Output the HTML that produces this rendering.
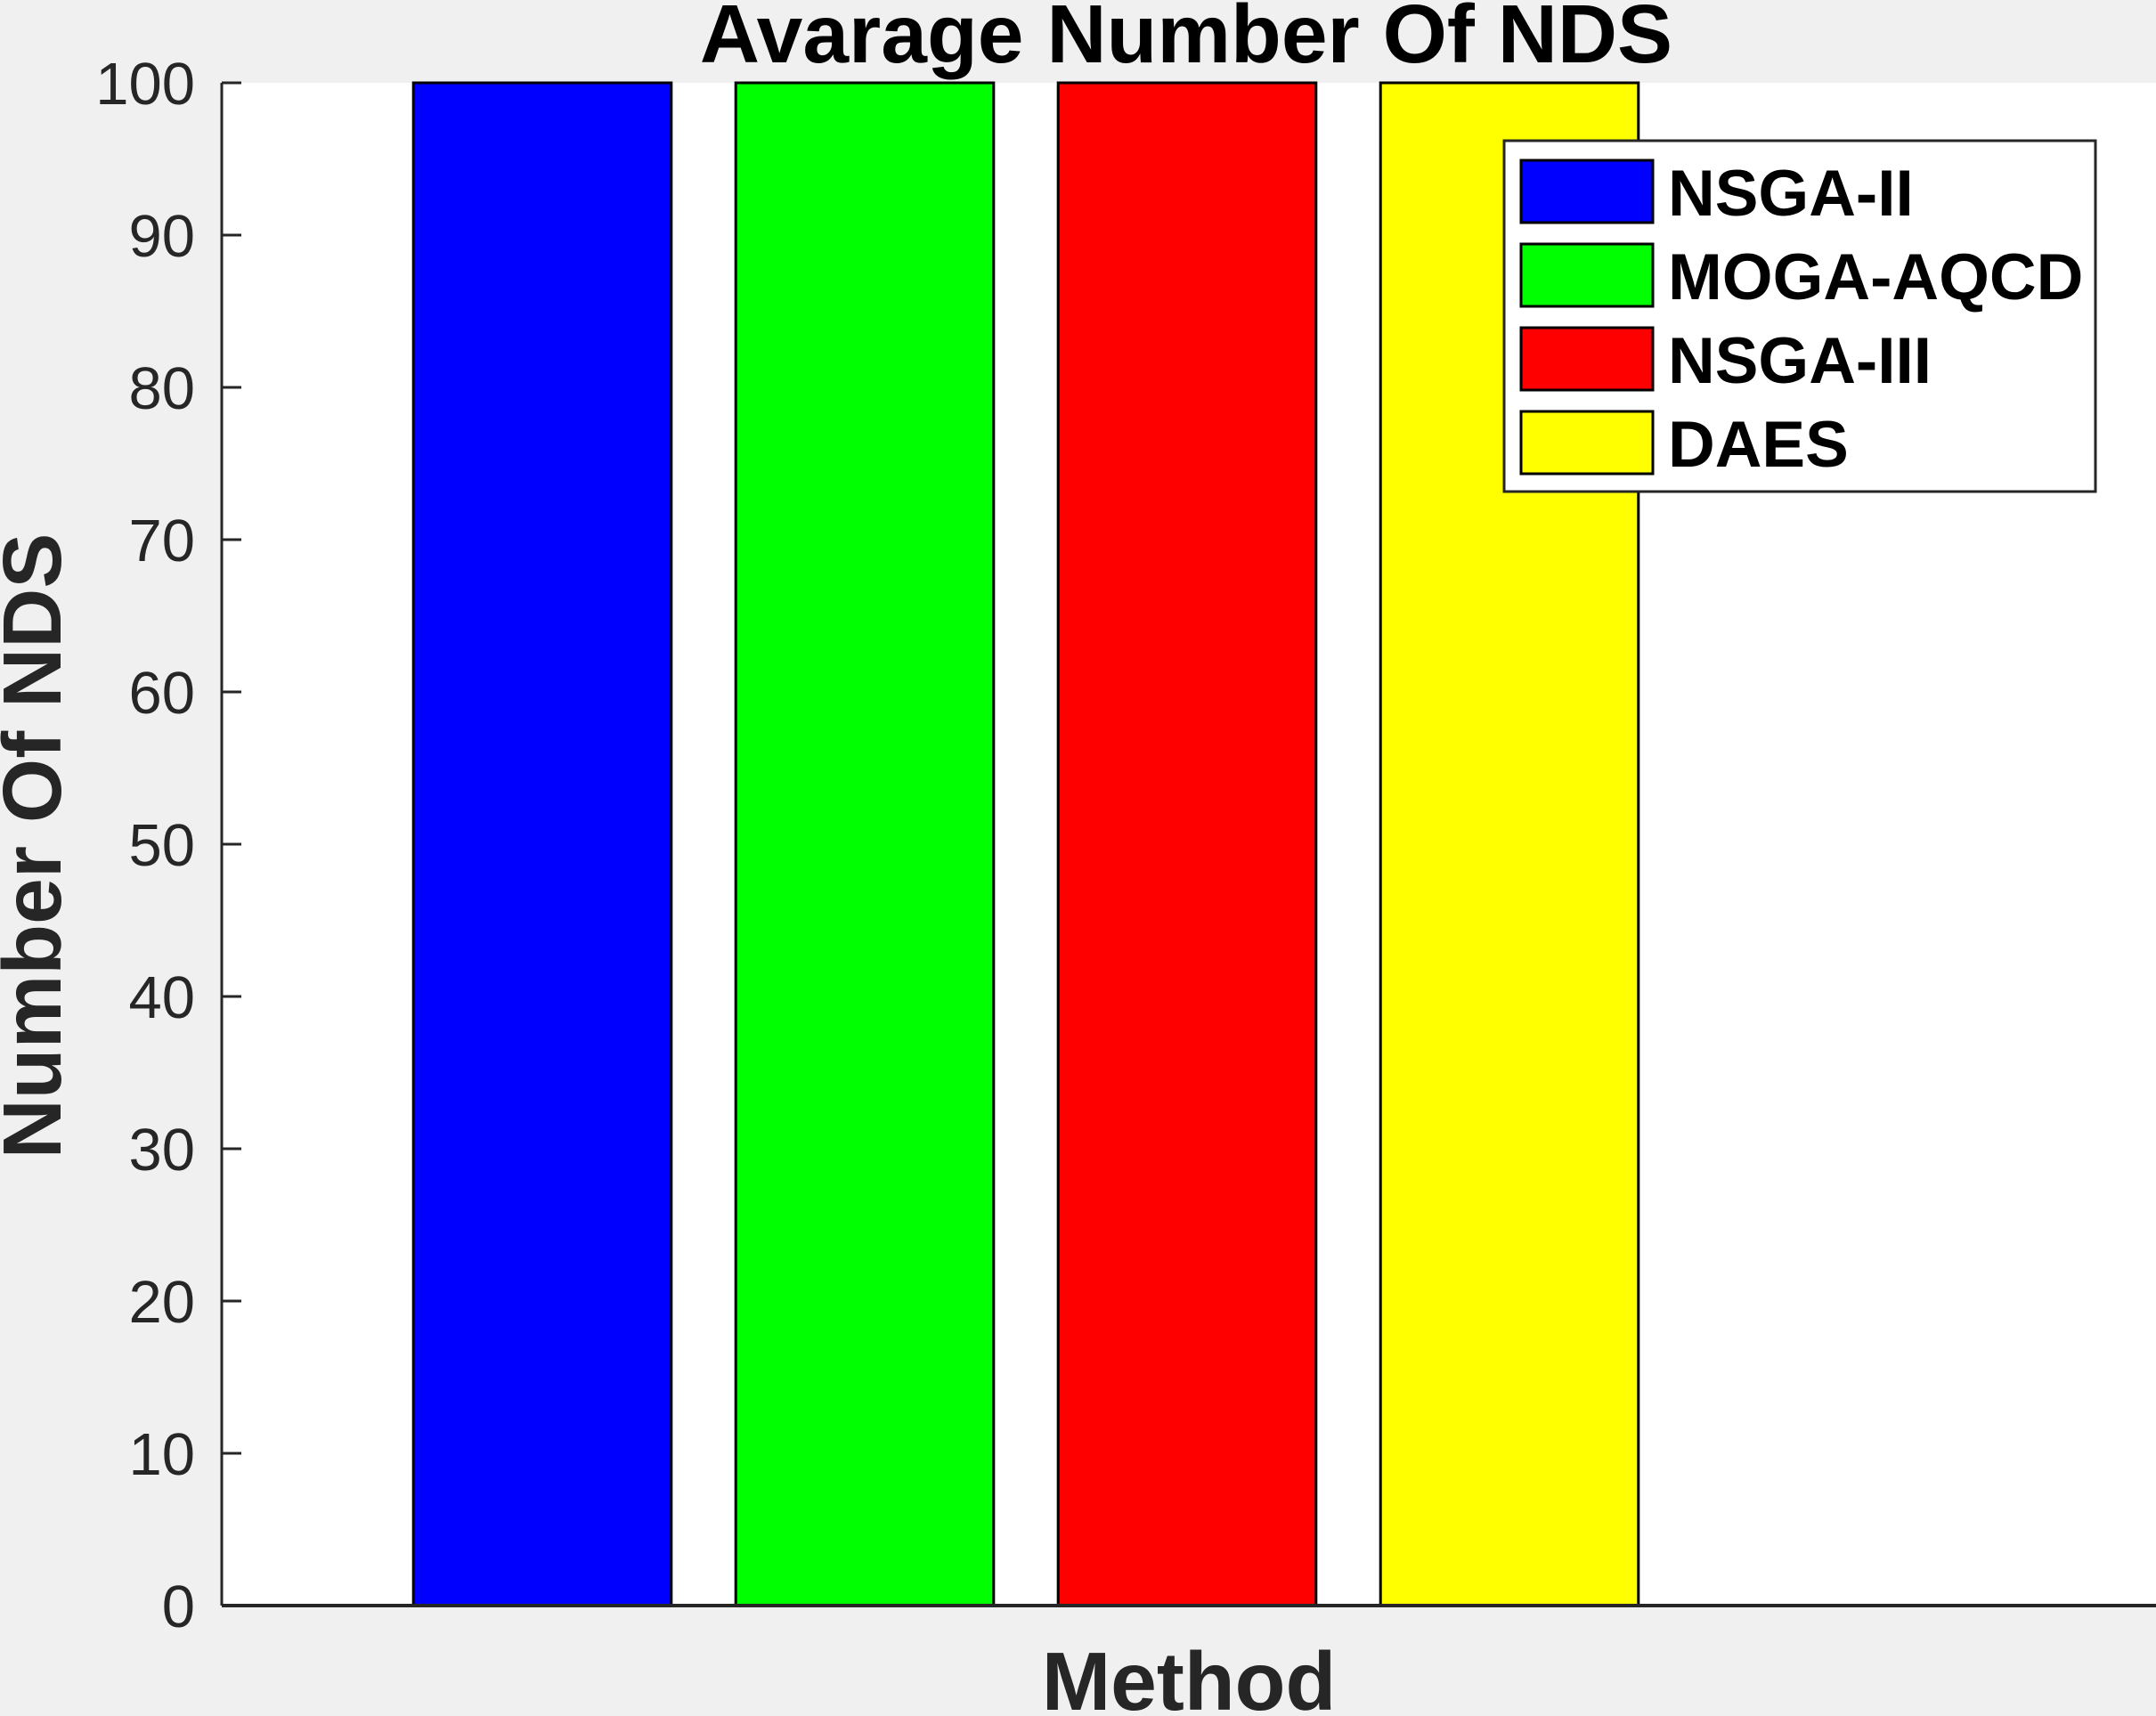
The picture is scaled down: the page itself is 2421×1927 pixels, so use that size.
<!DOCTYPE html>
<html><head><meta charset="utf-8"><style>
html,body{margin:0;padding:0;background:#f0f0f0;}
svg{display:block;font-family:"Liberation Sans",Arial,sans-serif;}
</style></head><body>
<svg id="chart" width="2421" height="1927" viewBox="0 0 2421 1927" xmlns="http://www.w3.org/2000/svg">
<rect x="0" y="0" width="2421" height="1927" fill="#f0f0f0"/>
<rect x="249" y="93" width="2172" height="1710" fill="#ffffff"/>
<g id="bars"></g>
<g id="yaxis"></g>
<text x="1332" y="70" text-anchor="middle" font-size="93" font-weight="bold" fill="#000">Avarage Number Of NDS</text>
<text transform="translate(68,950) rotate(-90)" text-anchor="middle" font-size="93" font-weight="bold" fill="#262626">Number Of NDS</text>
<text x="1335" y="1920" text-anchor="middle" font-size="93" font-weight="bold" fill="#262626">Method</text>
<g id="legend"></g>
</svg>
<script>
const categories = ["NSGA-II","MOGA-AQCD","NSGA-III","DAES"];
const values = [100,100,100,100];
const colors = ["#0000ff","#00ff00","#ff0000","#ffff00"];
const yTicks = [0,10,20,30,40,50,60,70,80,90,100];
const xMin = 0, xMax = 6, yMin = 0, yMax = 100;
const L = 249, R = 2421, T = 93, B = 1803;
const NS = "http://www.w3.org/2000/svg";
function xs(v){ return L - 2 + (v - xMin) / (xMax - xMin) * (R - L); }
function ys(v){ return B - (v - yMin) / (yMax - yMin) * (B - T); }
function mk(tag, attrs){ const e = document.createElementNS(NS, tag); for (const k in attrs) e.setAttribute(k, attrs[k]); return e; }
const bars = document.getElementById('bars');
const bw = 0.8;
values.forEach((v, i) => {
  const x0 = xs(i + 1 - bw/2), x1 = xs(i + 1 + bw/2);
  const r = mk('rect', {x: x0, y: ys(v), width: x1 - x0, height: ys(0) - ys(v), fill: colors[i], stroke: '#000', 'stroke-width': 3});
  
  
  bars.appendChild(r);
});
const ya = document.getElementById('yaxis');
const axl = mk('line', {x1: L, y1: T, x2: L, y2: B, stroke: '#262626', 'stroke-width': 3});


ya.appendChild(axl);
const bxl = mk('line', {x1: L, y1: B, x2: R, y2: B, stroke: '#262626', 'stroke-width': 4});


ya.appendChild(bxl);
yTicks.forEach(t => {
  const tk = mk('line', {x1: L, y1: ys(t), x2: L + 22, y2: ys(t), stroke: '#262626', 'stroke-width': 3});
  
  
  ya.appendChild(tk);
  const tx = mk('text', {x: 219, y: ys(t) + 24, 'text-anchor': 'end', 'font-size': 67, fill: '#262626'});
  tx.textContent = String(t);
  
  
  ya.appendChild(tx);
});
const lg = document.getElementById('legend');
const box = mk('rect', {x: 1689, y: 158, width: 664, height: 394, fill: '#fff', stroke: '#262626', 'stroke-width': 3});


lg.appendChild(box);
categories.forEach((c, i) => {
  const y0 = 180 + i * 94;
  const sw = mk('rect', {x: 1708, y: y0, width: 148, height: 70, fill: colors[i], stroke: '#000', 'stroke-width': 3});
  
  
  lg.appendChild(sw);
  const t = mk('text', {x: 1873, y: y0 + 62, 'font-size': 73, 'font-weight': 'bold', fill: '#000'});
  t.textContent = c;
  
  
  lg.appendChild(t);
});
</script>
</body></html>
